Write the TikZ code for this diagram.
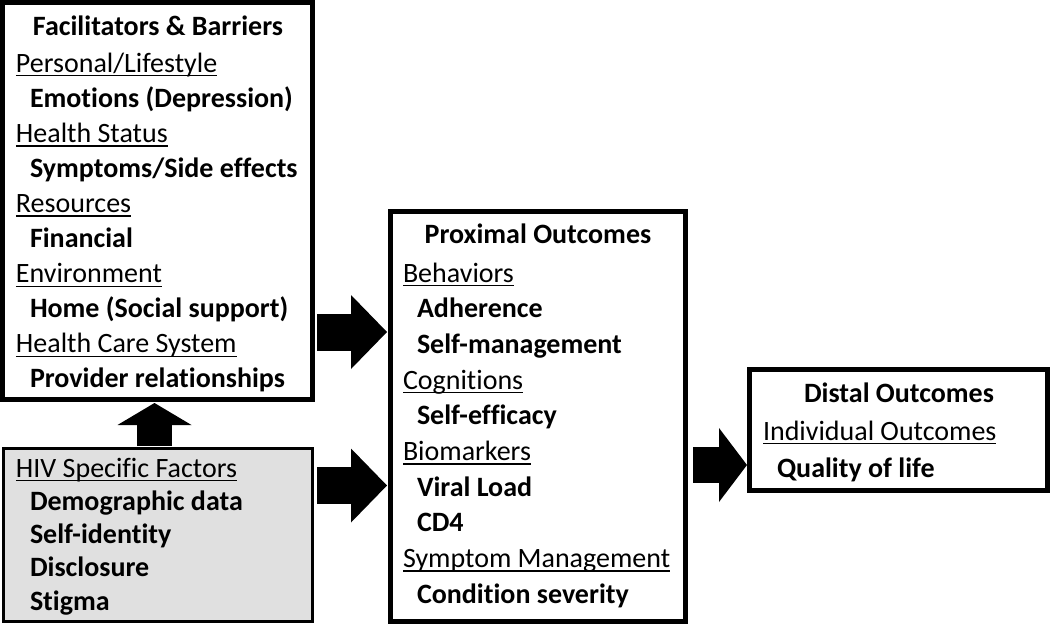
\documentclass[tikz,border=0pt]{standalone}
\usepackage{fontspec}
\setmainfont{Carlito}[Ligatures=NoCommon]
\usetikzlibrary{arrows.meta}
\newcommand\undr[1]{\setbox0\hbox{#1}\rlap{\rule[-3.3pt]{\wd0}{1pt}}\box0}
\newcommand\itm[1]{\hspace*{10.5pt}\textbf{#1}}
\tikzset{
        every node/.style={font=\fontsize{21}{25}\selectfont, inner sep=0pt, outer sep=0pt},
        box/.style={draw=black, line width=3.75pt, anchor=north west},
        hivbox/.style={draw=black, fill=black!12, line width=2.25pt, anchor=north west},
        entry/.style={anchor=base west},
        title/.style={anchor=base, font=\fontsize{21}{25}\selectfont\bfseries},
        bigarrow/.style 2 args={line width=#1, -{Triangle[length=#2, width=55.5pt, line width=0pt]}}
          }
\begin{document}
\begin{tikzpicture}[x=0.75pt, y=-0.75pt]
        \useasboundingbox (0,0) rectangle (1050,625);
        % boxes
        \node[box, minimum width=232.5pt, minimum height=297.75pt] (facil) at (2,2) {};
        \node[hivbox, minimum width=231.75pt, minimum height=129.75pt] (hiv) at (3,448) {};
        \node[box, minimum width=221.25pt, minimum height=307.5pt] (prox) at (390,211) {};
        \node[box, minimum width=223.5pt, minimum height=90.75pt] (dist) at (749,369) {};
        % facilitators and barriers
        \node[title] (facilt) at (158,35) {Facilitators \& Barriers};
        \foreach \txt [count=\i from 0] in {\undr{Personal/Lifestyle}, \itm{Emotions (Depression)},
            \undr{Health Status}, \itm{Symptoms/Side effects}, \undr{Resources}, \itm{Financial},
            \undr{Environment}, \itm{Home (Social support)}, \undr{Health Care System},
            \itm{Provider relationships}}
          \node[entry] (facil\i) at (16,{72+35.1*\i}) {\txt};
        % hiv specific factors
        \foreach \txt [count=\i from 0] in {\undr{HIV Specific Factors}, \itm{Demographic data},
            \itm{Self-identity}, \itm{Disclosure}, \itm{Stigma}}
          \node[entry] (hiv\i) at (16,{477+33.3*\i}) {\txt};
        % proximal outcomes
        \node[title] (proxt) at (538,243) {Proximal Outcomes};
        \foreach \txt [count=\i from 0] in {\undr{Behaviors}, \itm{Adherence}, \itm{Self-management},
            \undr{Cognitions}, \itm{Self-efficacy}, \undr{Biomarkers}, \itm{Viral Load}, \itm{CD4},
            \undr{Symptom Management}, \itm{Condition severity}}
          \node[entry] (prox\i) at (403,{282+35.67*\i}) {\txt};
        % distal outcomes
        \node[title] (distt) at (899,402) {Distal Outcomes};
        \foreach \txt [count=\i from 0] in {\undr{Individual Outcomes}, \itm{Quality of life}}
          \node[entry] (dist\i) at (763,{440+37*\i}) {\txt};
        % arrows
        \coordinate (r1) at (0,332);
        \coordinate (r2) at (0,485.5);
        \coordinate (r3) at (0,465);
        \coordinate (c1) at (154.5,0);
        \draw[bigarrow={27.75pt}{27pt}, shorten <=3.75pt, shorten >=2.25pt] (facil.east |- r1) -- (prox.west |- r1);
        \draw[bigarrow={27.75pt}{27pt}, shorten <=3.75pt, shorten >=2.25pt] (hiv.east |- r2) -- (prox.west |- r2);
        \draw[bigarrow={27pt}{21pt}, shorten <=6pt, shorten >=1.5pt] (prox.east |- r3) -- (dist.west |- r3);
        \draw[bigarrow={26.25pt}{16.5pt}, shorten <=1.5pt, shorten >=3pt] (hiv.north -| c1) -- (facil.south -| c1);
      \end{tikzpicture}
\end{document}
